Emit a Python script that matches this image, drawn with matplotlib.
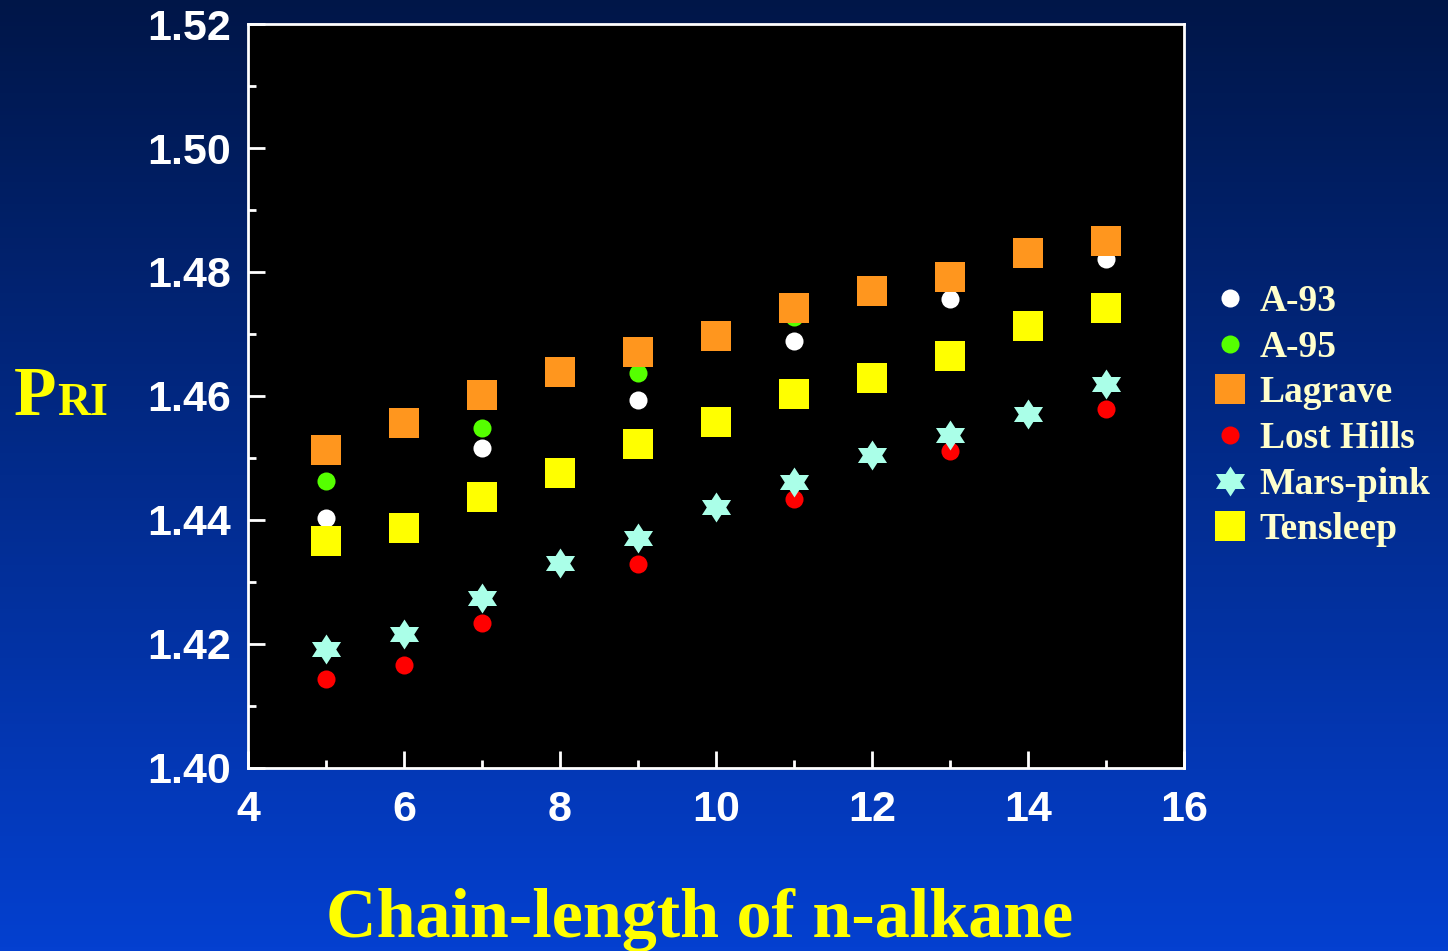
import numpy as np
import matplotlib
matplotlib.use("Agg")
import matplotlib.pyplot as plt
from matplotlib.ticker import MultipleLocator, FormatStrFormatter

# ---- data ----
x_a93 = [5, 7, 9, 11, 13, 15]
y_a93 = [1.4403, 1.4516, 1.4594, 1.4689, 1.4756, 1.4821]

x_a95 = [5, 7, 9, 11]
y_a95 = [1.4463, 1.4548, 1.4637, 1.4727]

x_lostHills = [5, 6, 7, 9, 11, 13, 15]
y_lostHills = [1.4144, 1.4166, 1.4234, 1.4329, 1.4434, 1.4511, 1.4579]

x_full = [5, 6, 7, 8, 9, 10, 11, 12, 13, 14, 15]
y_lagrave = [1.4513, 1.4556, 1.4602, 1.4639, 1.4671, 1.4697, 1.4742,
             1.4769, 1.4792, 1.4831, 1.4850]
y_tensleep = [1.4366, 1.4387, 1.4437, 1.4476, 1.4523, 1.4558, 1.4603,
              1.4629, 1.4665, 1.4713, 1.4742]
y_marsPink = [1.4192, 1.4216, 1.4274, 1.4331, 1.4371, 1.4421, 1.4461,
              1.4505, 1.4537, 1.4571, 1.4619]

legend_order = ["A-93", "A-95", "Lagrave", "Lost Hills", "Mars-pink", "Tensleep"]

# ---- style ----
C_WHITE = "#FFFFFF"
C_GREEN = "#55FF00"
C_ORANGE = "#FF961E"
C_RED = "#FF0000"
C_STAR = "#AAFFE8"
C_YELLOW = "#FFFF00"
C_LEGEND_TEXT = "#FFFFCC"

# six-pointed star marker (slightly widened)
ang_out = np.deg2rad(90 + 60 * np.arange(6))
ang_in = ang_out + np.deg2rad(30)
r_in = 1 / np.sqrt(3)
hexagram = []
for a_o, a_i in zip(ang_out, ang_in):
    hexagram.append((1.12 * np.cos(a_o), np.sin(a_o)))
    hexagram.append((1.12 * r_in * np.cos(a_i), r_in * np.sin(a_i)))
hexagram.append(hexagram[0])

fig = plt.figure(figsize=(14.48, 9.51), dpi=100)

# vertical gradient background
bg = fig.add_axes([0, 0, 1, 1], zorder=-10)
grad = np.linspace(0, 1, 256)[:, None]
top = np.array([0, 22, 72]) / 255
bottom = np.array([4, 64, 208]) / 255
img = top[None, None, :] * (1 - grad[..., None]) + bottom[None, None, :] * grad[..., None]
bg.imshow(img, aspect="auto", extent=[0, 1, 0, 1], origin="upper")
bg.axis("off")

ax = fig.add_axes([248 / 1448, 1 - 768 / 951, (1184 - 248) / 1448, (768 - 24) / 951])
ax.set_facecolor("black")

ms_sq = 21.6
ms_circ = 13
ms_star = 21.6

h = {}
h["A-93"], = ax.plot(x_a93, y_a93, ls="none", marker="o", ms=ms_circ, mfc=C_WHITE, mew=0, zorder=3)
h["A-95"], = ax.plot(x_a95, y_a95, ls="none", marker="o", ms=ms_circ, mfc=C_GREEN, mew=0, zorder=3)
h["Lost Hills"], = ax.plot(x_lostHills, y_lostHills, ls="none", marker="o", ms=ms_circ, mfc=C_RED, mew=0, zorder=3)
h["Lagrave"], = ax.plot(x_full, y_lagrave, ls="none", marker="s", ms=ms_sq, mfc=C_ORANGE, mew=0, zorder=4)
h["Mars-pink"], = ax.plot(x_full, y_marsPink, ls="none", marker=hexagram, ms=ms_star, mfc=C_STAR, mew=0, zorder=4)
h["Tensleep"], = ax.plot(x_full, y_tensleep, ls="none", marker="s", ms=ms_sq, mfc=C_YELLOW, mew=0, zorder=4)

ax.set_xlim(4, 16)
ax.set_ylim(1.40, 1.52)
ax.xaxis.set_major_locator(MultipleLocator(2))
ax.xaxis.set_minor_locator(MultipleLocator(1))
ax.yaxis.set_major_locator(MultipleLocator(0.02))
ax.yaxis.set_minor_locator(MultipleLocator(0.01))
ax.yaxis.set_major_formatter(FormatStrFormatter("%.2f"))

for sp in ax.spines.values():
    sp.set_color("white")
    sp.set_linewidth(2)

ax.tick_params(axis="both", which="both", direction="in", colors="white", width=2)
ax.tick_params(axis="both", which="major", length=12)
ax.tick_params(axis="both", which="minor", length=6)
ax.tick_params(axis="x", which="major", pad=16)
ax.tick_params(axis="y", which="major", pad=12)
for lab in ax.get_xticklabels() + ax.get_yticklabels():
    lab.set_fontfamily("Liberation Sans")
    lab.set_fontweight("bold")
    lab.set_fontsize(31)
    lab.set_color("white")

# axis titles
fig.text(700 / 1448, 1 - 937 / 951, "Chain-length of n-alkane", ha="center", va="baseline",
         family="Liberation Serif", weight="bold", size=50.5, color=C_YELLOW)
fig.text(14 / 1448, 1 - 415 / 951, "P", ha="left", va="baseline",
         family="Liberation Serif", weight="bold", size=50, color=C_YELLOW)
fig.text(57 / 1448, 1 - 415 / 951, "RI", ha="left", va="baseline",
         family="Liberation Serif", weight="bold", size=33, color=C_YELLOW)

handles = [h[k] for k in legend_order]
leg = fig.legend(handles, legend_order, loc="upper left",
                 bbox_to_anchor=(1207 / 1448, 1 - 284 / 951),
                 frameon=False, handlelength=1.2, handletextpad=0.2,
                 labelspacing=0.285, borderaxespad=0, borderpad=0,
                 prop={"family": "Liberation Serif", "weight": "bold", "size": 27})
for t in leg.get_texts():
    t.set_color(C_LEGEND_TEXT)

fig.savefig("out.png", dpi=100)
